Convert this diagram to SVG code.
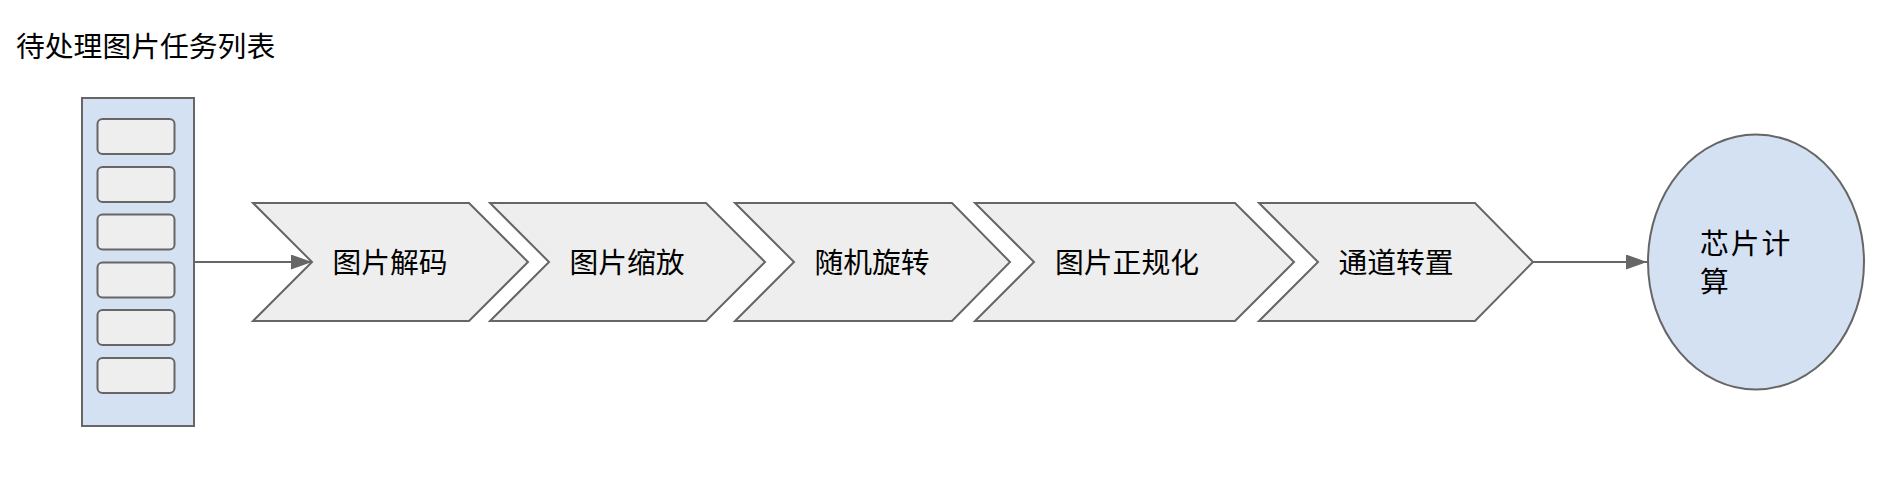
<svg xmlns="http://www.w3.org/2000/svg" width="1902" height="478" viewBox="0 0 1902 478">
<style>
.t{font-family:"Noto Sans CJK SC","Noto Sans",sans-serif;font-size:28.8px;fill:#000}
.chev{fill:#eeeeee;stroke:#666666;stroke-width:2;stroke-linejoin:miter}
.blue{fill:#d4e1f2;stroke:#666666;stroke-width:2}
.slot{fill:#eeeeee;stroke:#666666;stroke-width:2}
.conn{stroke:#666666;stroke-width:2;fill:none}
</style>
<defs>
<marker id="arr" markerUnits="userSpaceOnUse" markerWidth="22" markerHeight="16" refX="21" refY="7.5" orient="auto">
<path d="M0,0 L21,7.5 L0,15 z" fill="#666666"/>
</marker>
</defs>
<rect width="1902" height="478" fill="#ffffff"/>
<g id="title">
<text class="t" x="16" y="57">待处理图片任务列表</text>
</g>
<g id="queue">
<rect class="blue" x="82" y="98" width="112" height="328"/>
<rect class="slot" x="97.5" y="119" width="77" height="35" rx="5"/>
<rect class="slot" x="97.5" y="167" width="77" height="35" rx="5"/>
<rect class="slot" x="97.5" y="214.5" width="77" height="35" rx="5"/>
<rect class="slot" x="97.5" y="262.5" width="77" height="35" rx="5"/>
<rect class="slot" x="97.5" y="310" width="77" height="35" rx="5"/>
<rect class="slot" x="97.5" y="358" width="77" height="35" rx="5"/>
</g>
<g id="decode">
<polygon class="chev" points="253,203 469,203 528,262 469,321 253,321 312,262"/>
<text class="t" x="390" y="273" text-anchor="middle">图片解码</text>
</g>
<g id="resize">
<polygon class="chev" points="490,203 706,203 765,262 706,321 490,321 549,262"/>
<text class="t" x="627" y="273" text-anchor="middle">图片缩放</text>
</g>
<g id="rotate">
<polygon class="chev" points="735,203 952,203 1010,262 952,321 735,321 794,262"/>
<text class="t" x="872" y="273" text-anchor="middle">随机旋转</text>
</g>
<g id="normalize">
<polygon class="chev" points="975,203 1235,203 1294,262 1235,321 975,321 1034,262"/>
<text class="t" x="1127" y="273" text-anchor="middle">图片正规化</text>
</g>
<g id="transpose">
<polygon class="chev" points="1259,203 1475,203 1533,262 1475,321 1259,321 1318,262"/>
<text class="t" x="1396" y="273" text-anchor="middle">通道转置</text>
</g>
<g id="chip">
<ellipse class="blue" cx="1756" cy="262" rx="108" ry="127.5"/>
<text class="t" x="1700" y="254" letter-spacing="2">芯片计</text>
<text class="t" x="1700" y="292">算</text>
</g>
<g id="connectors">
<line class="conn" x1="194" y1="262" x2="312" y2="262" marker-end="url(#arr)"/>
<line class="conn" x1="1533" y1="262" x2="1647" y2="262" marker-end="url(#arr)"/>
</g>
</svg>
